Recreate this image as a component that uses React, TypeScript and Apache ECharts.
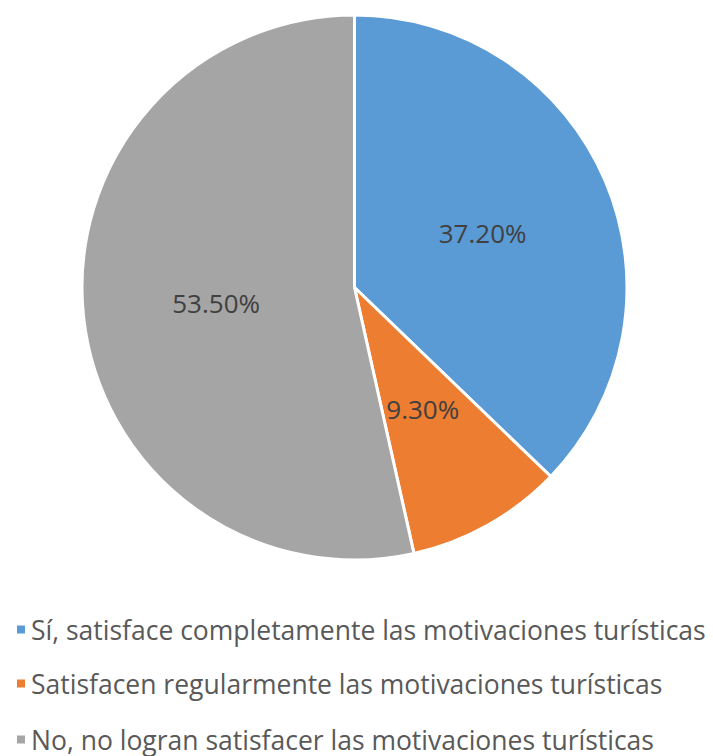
import React, { useEffect, useRef } from "react";
import * as echarts from "echarts";

const categories = [
  "Sí, satisface completamente las motivaciones turísticas",
  "Satisfacen regularmente las motivaciones turísticas",
  "No, no logran satisfacer las motivaciones turísticas",
];
const values = [37.2, 9.3, 53.5];
const colors = ["#5B9BD5", "#ED7D31", "#A5A5A5"];
const legendTops = [616, 670, 726];

export default function App() {
  const ref = useRef<HTMLDivElement>(null);
  useEffect(() => {
    if (!ref.current) return;
    const chart = echarts.init(ref.current, null, { renderer: "svg" });
    chart.setOption({
      animation: false,
      backgroundColor: "#ffffff",
      color: colors,
      legend: categories.map((c, i) => ({
        orient: "horizontal",
        left: 15,
        top: legendTops[i],
        padding: 0,
        icon: "rect",
        itemWidth: 10,
        itemHeight: 10,
        itemGap: 8,
        textStyle: { fontFamily: "Open Sans", fontSize: 26.5, color: "#595959" },
        data: [c],
      })),
      series: [
        {
          type: "pie",
          center: [354.5, 287.5],
          radius: 272.5,
          startAngle: 90,
          clockwise: true,
          itemStyle: { borderColor: "#ffffff", borderWidth: 3 },
          label: {
            show: true,
            position: "inside",
            formatter: (p: any) => p.value.toFixed(2) + "%",
            fontFamily: "Open Sans",
            fontSize: 26,
            color: "#404040",
          },
          labelLine: { show: false },
          emphasis: { disabled: true },
          data: categories.map((c, i) => ({ name: c, value: values[i] })),
        },
      ],
    });
    return () => chart.dispose();
  }, []);
  return (
    <div
      ref={ref}
      style={{ position: "fixed", left: 0, top: 0, width: 713, height: 756 }}
    />
  );
}
